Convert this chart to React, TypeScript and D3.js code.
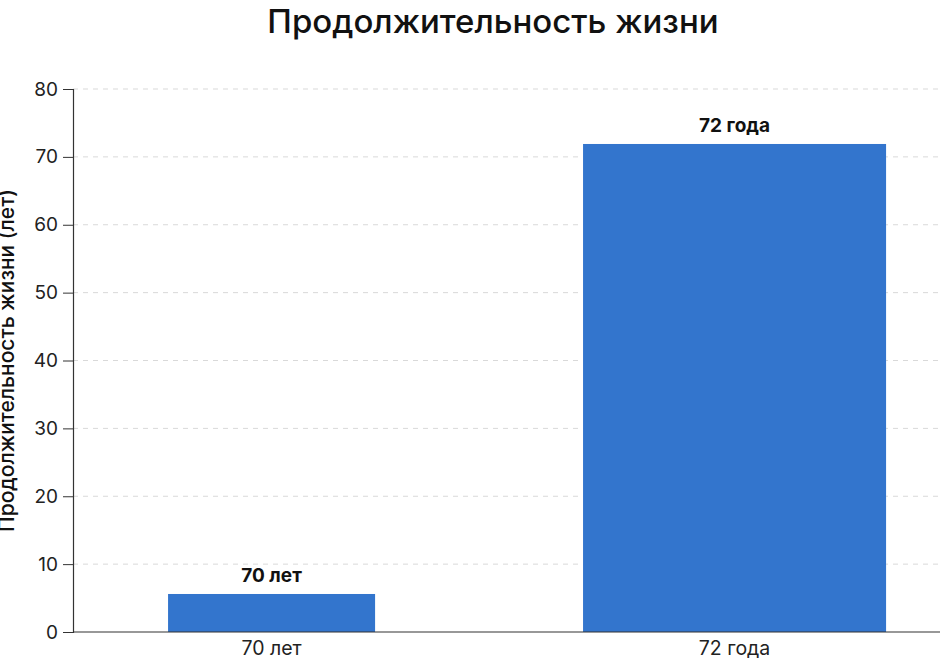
import * as d3 from 'd3';
import { useEffect, useRef } from 'react';

// data
const categories = ['70 лет', '72 года'];
const values = [5.6, 71.9];
const valueLabels = ['70 лет', '72 года'];
const yTicks = [0, 10, 20, 30, 40, 50, 60, 70, 80];

const WIDTH = 940;
const HEIGHT = 668;
const margin = { top: 89, right: 0, bottom: 36, left: 73 };
// bars in the reference are not equally wide
const barWidthFactor = [0.813, 1.19];
const BAR_COLOR = '#3375cd';
const FONT = 'Inter, "Noto Sans", sans-serif';

export default function App() {
  const svgRef = useRef<SVGSVGElement>(null);

  useEffect(() => {
    if (!svgRef.current) return;
    const svg = d3.select(svgRef.current);
    svg.selectAll('*').remove();

    const x = d3.scaleBand<string>()
      .domain(categories)
      .range([margin.left, WIDTH - margin.right])
      .paddingInner(0.45)
      .paddingOuter(0.1613)
      .align(0.477);

    const y = d3.scaleLinear()
      .domain([0, 80])
      .range([HEIGHT - margin.bottom, margin.top]);

    // grid
    svg.append('g')
      .selectAll('line')
      .data(yTicks.filter(t => t > 0))
      .join('line')
      .attr('x1', margin.left)
      .attr('x2', WIDTH)
      .attr('y1', d => y(d))
      .attr('y2', d => y(d))
      .attr('stroke', '#d9d9d9')
      .attr('stroke-width', 1)
      .attr('stroke-dasharray', '5,5');

    // bars
    const bw = x.bandwidth();
    svg.append('g')
      .selectAll('rect')
      .data(values)
      .join('rect')
      .attr('x', (d, i) => x(categories[i])! + bw / 2 - (bw * barWidthFactor[i]) / 2)
      .attr('width', (d, i) => bw * barWidthFactor[i])
      .attr('y', d => y(d))
      .attr('height', d => y(0) - y(d))
      .attr('fill', BAR_COLOR);

    // value labels
    svg.append('g')
      .selectAll('text')
      .data(values)
      .join('text')
      .attr('x', (d, i) => x(categories[i])! + bw / 2)
      .attr('y', d => y(d) - 12)
      .attr('text-anchor', 'middle')
      .style('font-family', FONT)
      .style('font-size', '19px')
      .style('font-weight', 'bold')
      .style('fill', '#111')
      .text((d, i) => valueLabels[i]);

    // y axis
    const yAxis = svg.append('g')
      .attr('transform', `translate(${margin.left},0)`)
      .call(d3.axisLeft(y).tickValues(yTicks).tickSize(10).tickPadding(5));
    yAxis.select('.domain').attr('stroke', '#333').attr('stroke-width', 1.2);
    yAxis.selectAll('.tick line').attr('stroke', '#333');
    yAxis.selectAll('.tick text')
      .style('font-family', FONT)
      .style('font-size', '19px')
      .style('fill', '#222');

    // x axis
    const xAxis = svg.append('g')
      .attr('transform', `translate(0,${y(0)})`)
      .call(d3.axisBottom(x).tickSize(0).tickPadding(9));
    xAxis.select('.domain').attr('d', `M${margin.left},0H${WIDTH}`).attr('stroke', '#333').attr('stroke-width', 1.2);
    xAxis.selectAll('.tick text')
      .style('font-family', FONT)
      .style('font-size', '19.5px')
      .style('fill', '#222');

    // title
    svg.append('text')
      .attr('x', 493)
      .attr('y', 33)
      .attr('text-anchor', 'middle')
      .style('font-family', FONT)
      .style('font-size', '33px')
      .style('font-weight', 500)
      .style('fill', '#111')
      .text('Продолжительность жизни');

    // y axis title (runs against the left edge, as in the reference)
    svg.append('text')
      .attr('transform', `translate(14,${(y(0) + y(80)) / 2}) rotate(-90)`)
      .attr('text-anchor', 'middle')
      .style('font-family', FONT)
      .style('font-size', '21px')
      .style('font-weight', 500)
      .style('fill', '#111')
      .text('Продолжительность жизни (лет)');
  }, []);

  return (
    <svg
      ref={svgRef}
      width={WIDTH}
      height={HEIGHT}
      style={{ position: 'absolute', left: 0, top: 0, background: '#fff' }}
    />
  );
}
